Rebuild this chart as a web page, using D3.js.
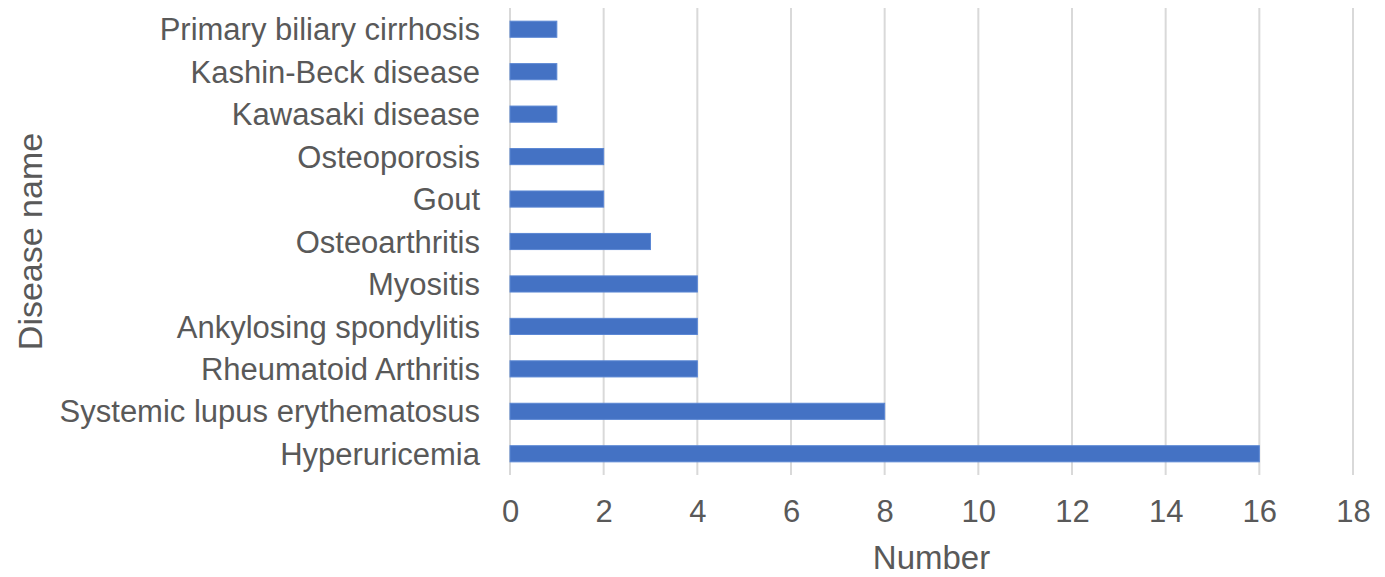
<!DOCTYPE html>
<html>
<head>
<meta charset="utf-8">
<script src="https://cdn.jsdelivr.net/npm/d3@7"></script>
<style>
  body { margin: 0; background: #fff; }
  text { font-family: "Liberation Sans", Arial, sans-serif; fill: #595959; }
</style>
</head>
<body>
<svg class="chart"></svg>
<script>
// data, top to bottom as drawn
var diseases = ["Primary biliary cirrhosis", "Kashin-Beck disease", "Kawasaki disease",
  "Osteoporosis", "Gout", "Osteoarthritis", "Myositis", "Ankylosing spondylitis",
  "Rheumatoid Arthritis", "Systemic lupus erythematosus", "Hyperuricemia"];
var counts = [1, 1, 1, 2, 2, 3, 4, 4, 4, 8, 16];
var xTicks = [0, 2, 4, 6, 8, 10, 12, 14, 16, 18];

var W = 1385, H = 577;
var margin = {top: 8, right: 32, bottom: 102, left: 510},
    width = W - margin.left - margin.right,
    height = H - margin.top - margin.bottom;

var chart = d3.select('.chart')
    .attr("width", W)
    .attr("height", H);

var g = chart.append("g").attr("transform", "translate(" + margin.left + "," + margin.top + ")");

var xScale = d3.scaleLinear().domain([0, 18]).range([0, width]);
var yScale = d3.scaleBand().domain(diseases).range([0, height])
    .paddingInner(0.62).paddingOuter(0.31);

// gridlines
g.append("g")
  .selectAll("line")
  .data(xTicks)
  .enter().append("line")
    .attr("x1", function(d){ return xScale(d) })
    .attr("x2", function(d){ return xScale(d) })
    .attr("y1", 0)
    .attr("y2", height)
    .style("stroke", "#d9d9d9")
    .style("stroke-width", "2px");

// bars
g.selectAll(".bar")
  .data(counts)
  .enter().append("rect")
    .attr("class", "bar")
    .attr("x", xScale(0))
    .attr("y", function(d, i){ return yScale(diseases[i]) })
    .attr("width", function(d){ return xScale(d) - xScale(0) })
    .attr("height", yScale.bandwidth())
    .style("fill", "#4472c4")
    .style("stroke", "#5b87d4")
    .style("stroke-width", "1px");

// x axis labels
var xAxis = g.append("g")
    .attr("transform", "translate(0," + height + ")")
    .call(d3.axisBottom(xScale).tickValues(xTicks).tickSize(0).tickPadding(25));
xAxis.select(".domain").remove();
xAxis.selectAll("text")
    .style("font-size", "31px")
    .attr("fill", "#595959");

// y axis labels
var yAxis = g.append("g")
    .call(d3.axisLeft(yScale).tickSize(0).tickPadding(30));
yAxis.select(".domain").remove();
yAxis.selectAll("text")
    .style("font-size", "31px")
    .attr("dy", "0.36em")
    .attr("fill", "#595959");

// titles
chart.append("text")
    .attr("x", margin.left + width / 2)
    .attr("y", 569)
    .style("text-anchor", "middle")
    .style("font-size", "33px")
    .text("Number");

chart.append("text")
    .attr("transform", "rotate(-90)")
    .attr("x", -(margin.top + height / 2))
    .attr("y", 42)
    .style("text-anchor", "middle")
    .style("font-size", "34px")
    .text("Disease name");
</script>
</body>
</html>
